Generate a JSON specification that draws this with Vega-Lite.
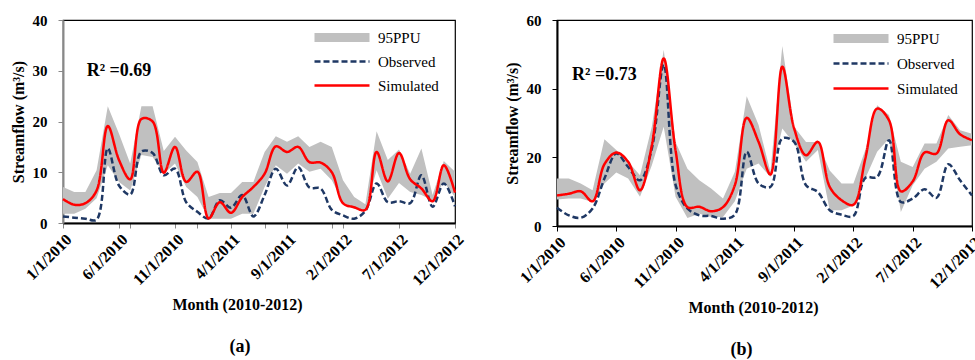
{
  "$schema": "https://vega.github.io/schema/vega-lite/v6.json",
  "background": "white",
  "padding": {"left": 9, "top": 12, "right": 0, "bottom": 0},
  "spacing": 36,
  "resolve": {
    "scale": {"stroke": "independent", "strokeDash": "independent"},
    "legend": {"stroke": "independent", "strokeDash": "independent"}
  },
  "config": {
    "font": "Liberation Serif",
    "view": {"stroke": "black", "strokeWidth": 1.2},
    "axis": {"grid": false, "labelFont": "Liberation Serif", "labelFontSize": 15, "labelFontWeight": "bold", "labelColor": "black", "titleFont": "Liberation Serif", "titleFontSize": 16, "titleFontWeight": "bold", "titleColor": "black", "tickColor": "#888888", "tickSize": 5, "domainWidth": 2},
    "axisY": {"labelPadding": 11, "titlePadding": 6},
    "axisX": {"labelFontSize": 16, "labelAngle": -45, "labelOverlap": false, "labelBound": false, "labelPadding": 3, "titlePadding": 8, "domainColor": "black"},
    "legend": {"labelFont": "Liberation Serif", "labelFontSize": 15, "labelColor": "black", "title": null}
  },
  "datasets": {
    "a": [
      {"month": "1/1/2010", "upper": 7.1, "lower": 1.8, "observed": 1.3, "simulated": 4.7},
      {"month": "2/1/2010", "upper": 6.1, "lower": 1.8, "observed": 1.05, "simulated": 3.6},
      {"month": "3/1/2010", "upper": 6.1, "lower": 2.8, "observed": 0.85, "simulated": 3.9},
      {"month": "4/1/2010", "upper": 10.4, "lower": 4.9, "observed": 0.65, "simulated": 6.4},
      {"month": "5/1/2010", "upper": 23.0, "lower": 11.4, "observed": 14.7, "simulated": 19.1},
      {"month": "6/1/2010", "upper": 17.6, "lower": 8.1, "observed": 7.4, "simulated": 12.4},
      {"month": "7/1/2010", "upper": 11.7, "lower": 6.4, "observed": 5.6, "simulated": 8.6},
      {"month": "8/1/2010", "upper": 23.0, "lower": 13.4, "observed": 14.1, "simulated": 20.5},
      {"month": "9/1/2010", "upper": 23.0, "lower": 13.0, "observed": 13.8, "simulated": 20.0},
      {"month": "10/1/2010", "upper": 14.2, "lower": 9.7, "observed": 9.4, "simulated": 9.9},
      {"month": "11/1/2010", "upper": 17.0, "lower": 11.7, "observed": 10.7, "simulated": 15.0},
      {"month": "12/1/2010", "upper": 14.3, "lower": 7.1, "observed": 4.1, "simulated": 8.1},
      {"month": "1/1/2011", "upper": 12.0, "lower": 5.1, "observed": 2.2, "simulated": 10.1},
      {"month": "2/1/2011", "upper": 5.1, "lower": 0.85, "observed": 0.9, "simulated": 0.9},
      {"month": "3/1/2011", "upper": 5.9, "lower": 0.85, "observed": 4.5, "simulated": 4.1},
      {"month": "4/1/2011", "upper": 5.9, "lower": 0.85, "observed": 3.0, "simulated": 2.0},
      {"month": "5/1/2011", "upper": 8.1, "lower": 1.8, "observed": 5.5, "simulated": 5.1},
      {"month": "6/1/2011", "upper": 8.1, "lower": 1.8, "observed": 1.3, "simulated": 7.1},
      {"month": "7/1/2011", "upper": 14.0, "lower": 7.1, "observed": 5.5, "simulated": 9.7},
      {"month": "8/1/2011", "upper": 17.1, "lower": 11.4, "observed": 10.7, "simulated": 15.1},
      {"month": "9/1/2011", "upper": 16.0, "lower": 9.7, "observed": 7.4, "simulated": 14.0},
      {"month": "10/1/2011", "upper": 17.1, "lower": 11.7, "observed": 11.0, "simulated": 15.0},
      {"month": "11/1/2011", "upper": 15.0, "lower": 10.1, "observed": 7.0, "simulated": 12.0},
      {"month": "12/1/2011", "upper": 16.0, "lower": 10.7, "observed": 6.8, "simulated": 11.9},
      {"month": "1/1/2012", "upper": 15.0, "lower": 8.4, "observed": 2.6, "simulated": 10.0},
      {"month": "2/1/2012", "upper": 8.4, "lower": 4.1, "observed": 1.5, "simulated": 3.9},
      {"month": "3/1/2012", "upper": 5.1, "lower": 2.8, "observed": 0.85, "simulated": 3.1},
      {"month": "4/1/2012", "upper": 3.7, "lower": 2.4, "observed": 2.4, "simulated": 2.6},
      {"month": "5/1/2012", "upper": 18.1, "lower": 10.4, "observed": 7.8, "simulated": 14.0},
      {"month": "6/1/2012", "upper": 12.4, "lower": 4.8, "observed": 4.1, "simulated": 8.2},
      {"month": "7/1/2012", "upper": 14.5, "lower": 7.9, "observed": 4.3, "simulated": 13.8},
      {"month": "8/1/2012", "upper": 9.7, "lower": 6.1, "observed": 3.9, "simulated": 8.6},
      {"month": "9/1/2012", "upper": 14.7, "lower": 5.5, "observed": 9.4, "simulated": 6.8},
      {"month": "10/1/2012", "upper": 5.5, "lower": 4.5, "observed": 3.2, "simulated": 4.3},
      {"month": "11/1/2012", "upper": 12.2, "lower": 8.1, "observed": 7.8, "simulated": 11.4},
      {"month": "12/1/2012", "upper": 10.1, "lower": 5.1, "observed": 3.3, "simulated": 6.0}
    ],
    "b": [
      {"month": "1/1/2010", "upper": 13.8, "lower": 7.7, "observed": 5.3, "simulated": 8.9},
      {"month": "2/1/2010", "upper": 13.8, "lower": 8.0, "observed": 3.1, "simulated": 9.4},
      {"month": "3/1/2010", "upper": 12.4, "lower": 8.0, "observed": 2.4, "simulated": 10.1},
      {"month": "4/1/2010", "upper": 10.4, "lower": 7.0, "observed": 5.1, "simulated": 7.2},
      {"month": "5/1/2010", "upper": 25.3, "lower": 12.4, "observed": 13.8, "simulated": 18.0},
      {"month": "6/1/2010", "upper": 22.1, "lower": 15.6, "observed": 21.1, "simulated": 21.4},
      {"month": "7/1/2010", "upper": 18.7, "lower": 13.8, "observed": 17.2, "simulated": 18.7},
      {"month": "8/1/2010", "upper": 14.8, "lower": 8.5, "observed": 13.3, "simulated": 10.4},
      {"month": "9/1/2010", "upper": 29.0, "lower": 17.7, "observed": 22.6, "simulated": 23.5},
      {"month": "10/1/2010", "upper": 51.3, "lower": 28.9, "observed": 47.0, "simulated": 48.8},
      {"month": "11/1/2010", "upper": 24.5, "lower": 8.5, "observed": 12.0, "simulated": 22.0},
      {"month": "12/1/2010", "upper": 16.7, "lower": 2.3, "observed": 5.1, "simulated": 5.5},
      {"month": "1/1/2011", "upper": 13.3, "lower": 3.6, "observed": 3.1, "simulated": 5.6},
      {"month": "2/1/2011", "upper": 10.9, "lower": 2.6, "observed": 2.9, "simulated": 4.3},
      {"month": "3/1/2011", "upper": 8.0, "lower": 2.6, "observed": 2.1, "simulated": 5.5},
      {"month": "4/1/2011", "upper": 15.8, "lower": 7.2, "observed": 3.3, "simulated": 11.9},
      {"month": "5/1/2011", "upper": 37.8, "lower": 16.7, "observed": 21.6, "simulated": 31.5},
      {"month": "6/1/2011", "upper": 29.4, "lower": 18.2, "observed": 12.4, "simulated": 24.5},
      {"month": "7/1/2011", "upper": 15.8, "lower": 14.3, "observed": 11.4, "simulated": 15.0},
      {"month": "8/1/2011", "upper": 52.4, "lower": 28.4, "observed": 25.5, "simulated": 46.4},
      {"month": "9/1/2011", "upper": 28.9, "lower": 24.0, "observed": 24.5, "simulated": 28.4},
      {"month": "10/1/2011", "upper": 24.5, "lower": 18.7, "observed": 11.9, "simulated": 20.6},
      {"month": "11/1/2011", "upper": 24.5, "lower": 22.1, "observed": 9.9, "simulated": 24.5},
      {"month": "12/1/2011", "upper": 16.2, "lower": 4.6, "observed": 4.6, "simulated": 11.4},
      {"month": "1/1/2012", "upper": 12.4, "lower": 4.6, "observed": 3.3, "simulated": 7.5},
      {"month": "2/1/2012", "upper": 12.4, "lower": 6.0, "observed": 2.9, "simulated": 6.2},
      {"month": "3/1/2012", "upper": 22.1, "lower": 13.8, "observed": 14.0, "simulated": 19.6},
      {"month": "4/1/2012", "upper": 35.2, "lower": 21.6, "observed": 14.3, "simulated": 34.2},
      {"month": "5/1/2012", "upper": 32.3, "lower": 25.5, "observed": 25.0, "simulated": 30.8},
      {"month": "6/1/2012", "upper": 18.7, "lower": 4.1, "observed": 7.0, "simulated": 10.1},
      {"month": "7/1/2012", "upper": 17.2, "lower": 11.9, "observed": 8.0, "simulated": 13.0},
      {"month": "8/1/2012", "upper": 24.0, "lower": 16.7, "observed": 10.7, "simulated": 21.4},
      {"month": "9/1/2012", "upper": 24.0, "lower": 18.7, "observed": 8.2, "simulated": 21.1},
      {"month": "10/1/2012", "upper": 32.3, "lower": 22.6, "observed": 18.0, "simulated": 30.8},
      {"month": "11/1/2012", "upper": 27.9, "lower": 23.1, "observed": 13.3, "simulated": 26.7},
      {"month": "12/1/2012", "upper": 26.9, "lower": 23.5, "observed": 8.9, "simulated": 25.0}
    ]
  },
  "hconcat": [
    {
      "width": 392,
      "height": 203,
      "data": {"name": "a"},
      "title": {"text": "(a)", "orient": "bottom", "anchor": "middle", "frame": "group", "offset": 26, "dx": -19, "fontSize": 18, "fontWeight": "bold", "font": "Liberation Serif", "color": "black"},
      "encoding": {
        "x": {
          "field": "month", "type": "ordinal", "sort": null,
          "scale": {"type": "point", "padding": 0},
          "axis": {
            "title": "Month (2010-2012)", "titleX": 174,
            "values": ["1/1/2010", "6/1/2010", "7/1/2010", "11/1/2010", "1/1/2011", "4/1/2011", "7/1/2011", "9/1/2011", "1/1/2012", "2/1/2012", "7/1/2012", "12/1/2012"],
            "labelExpr": "indexof(['1/1/2010','6/1/2010','11/1/2010','4/1/2011','9/1/2011','2/1/2012','7/1/2012','12/1/2012'], datum.value) >= 0 ? datum.value : ''",
            "encode": {"ticks": {"update": {"opacity": {"signal": "indexof(['1/1/2010','7/1/2010','1/1/2011','7/1/2011','1/1/2012','7/1/2012'], datum.value) >= 0 ? 1 : 0"}}}}
          }
        }
      },
      "layer": [
        {
          "mark": {"type": "area", "color": "#c0c0c0", "opacity": 1},
          "encoding": {
            "y": {"field": "upper", "type": "quantitative", "scale": {"domain": [0, 40], "nice": false}, "axis": {"title": "Streamflow (m³/s)", "values": [0, 10, 20, 30, 40], "domainColor": "#888888"}},
            "y2": {"field": "lower"}
          }
        },
        {
          "mark": {"type": "line", "interpolate": "catmull-rom", "strokeWidth": 2.5},
          "encoding": {
            "y": {"field": "observed", "type": "quantitative"},
            "stroke": {"datum": "Observed", "scale": {"domain": ["95PPU", "Observed", "Simulated"], "range": ["#c0c0c0", "#1f3864", "#ff0000"]}, "legend": {"orient": "none", "legendX": 249, "legendY": 10, "direction": "vertical", "padding": 0, "symbolType": "M-1,0H10", "symbolSize": 100, "symbolStrokeWidth": 2.5, "labelOffset": 51, "rowPadding": 8, "encode": {"symbols": {"update": {"shape": {"signal": "datum.value === '95PPU' ? 'M-1,-0.9H10V0.9H-1Z' : 'M-1,0H10'"}, "fill": {"signal": "datum.value === '95PPU' ? '#c0c0c0' : 'transparent'"}, "strokeWidth": {"signal": "datum.value === '95PPU' ? 0 : 2.5"}}}}}},
            "strokeDash": {"datum": "Observed", "scale": {"domain": ["95PPU", "Observed", "Simulated"], "range": [[1, 0], [6, 3], [1, 0]]}, "legend": {"orient": "none", "legendX": 249, "legendY": 10, "direction": "vertical", "padding": 0, "symbolType": "M-1,0H10", "symbolSize": 100, "symbolStrokeWidth": 2.5, "labelOffset": 51, "rowPadding": 8, "encode": {"symbols": {"update": {"shape": {"signal": "datum.value === '95PPU' ? 'M-1,-0.9H10V0.9H-1Z' : 'M-1,0H10'"}, "fill": {"signal": "datum.value === '95PPU' ? '#c0c0c0' : 'transparent'"}, "strokeWidth": {"signal": "datum.value === '95PPU' ? 0 : 2.5"}}}}}}
          }
        },
        {
          "mark": {"type": "line", "interpolate": "catmull-rom", "strokeWidth": 2.5},
          "encoding": {
            "y": {"field": "simulated", "type": "quantitative"},
            "stroke": {"datum": "Simulated"},
            "strokeDash": {"datum": "Simulated"}
          }
        },
        {
          "data": {"values": [{"month": "6/1/2010", "value": 30, "label": "R² =0.69"}]},
          "mark": {"type": "text", "fontSize": 18, "fontWeight": "bold", "font": "Liberation Serif", "align": "center", "baseline": "middle", "color": "black"},
          "encoding": {
            "y": {"field": "value", "type": "quantitative"},
            "text": {"field": "label"}
          }
        }
      ]
    },
    {
      "width": 415,
      "height": 206,
      "data": {"name": "b"},
      "title": {"text": "(b)", "orient": "bottom", "anchor": "middle", "frame": "group", "offset": 26, "dx": -23, "fontSize": 18, "fontWeight": "bold", "font": "Liberation Serif", "color": "black"},
      "encoding": {
        "x": {
          "field": "month", "type": "ordinal", "sort": null,
          "scale": {"type": "point", "padding": 0},
          "axis": {
            "title": "Month (2010-2012)", "titleX": 196, "tickColor": "black",
            "values": ["1/1/2010", "6/1/2010", "11/1/2010", "4/1/2011", "9/1/2011", "2/1/2012", "7/1/2012", "12/1/2012"]
          }
        }
      },
      "layer": [
        {
          "mark": {"type": "area", "color": "#c0c0c0", "opacity": 1},
          "encoding": {
            "y": {"field": "upper", "type": "quantitative", "scale": {"domain": [0, 60], "nice": false}, "axis": {"title": "Streamflow (m³/s)", "values": [0, 10, 20, 30, 40, 50, 60], "domainColor": "black", "tickColor": "black"}},
            "y2": {"field": "lower"}
          }
        },
        {
          "mark": {"type": "line", "interpolate": "catmull-rom", "strokeWidth": 2.5},
          "encoding": {
            "y": {"field": "observed", "type": "quantitative"},
            "stroke": {"datum": "Observed", "scale": {"domain": ["95PPU", "Observed", "Simulated"], "range": ["#c0c0c0", "#1f3864", "#ff0000"]}, "legend": {"orient": "none", "legendX": 274, "legendY": 11, "direction": "vertical", "padding": 0, "symbolType": "M-1,0H10", "symbolSize": 100, "symbolStrokeWidth": 2.5, "labelOffset": 51, "rowPadding": 9, "encode": {"symbols": {"update": {"shape": {"signal": "datum.value === '95PPU' ? 'M-1,-0.9H10V0.9H-1Z' : 'M-1,0H10'"}, "fill": {"signal": "datum.value === '95PPU' ? '#c0c0c0' : 'transparent'"}, "strokeWidth": {"signal": "datum.value === '95PPU' ? 0 : 2.5"}}}}}},
            "strokeDash": {"datum": "Observed", "scale": {"domain": ["95PPU", "Observed", "Simulated"], "range": [[1, 0], [6, 3], [1, 0]]}, "legend": {"orient": "none", "legendX": 274, "legendY": 11, "direction": "vertical", "padding": 0, "symbolType": "M-1,0H10", "symbolSize": 100, "symbolStrokeWidth": 2.5, "labelOffset": 51, "rowPadding": 9, "encode": {"symbols": {"update": {"shape": {"signal": "datum.value === '95PPU' ? 'M-1,-0.9H10V0.9H-1Z' : 'M-1,0H10'"}, "fill": {"signal": "datum.value === '95PPU' ? '#c0c0c0' : 'transparent'"}, "strokeWidth": {"signal": "datum.value === '95PPU' ? 0 : 2.5"}}}}}}
          }
        },
        {
          "mark": {"type": "line", "interpolate": "catmull-rom", "strokeWidth": 2.5},
          "encoding": {
            "y": {"field": "simulated", "type": "quantitative"},
            "stroke": {"datum": "Simulated"},
            "strokeDash": {"datum": "Simulated"}
          }
        },
        {
          "data": {"values": [{"month": "5/1/2010", "value": 44, "label": "R² =0.73"}]},
          "mark": {"type": "text", "fontSize": 18, "fontWeight": "bold", "font": "Liberation Serif", "align": "center", "baseline": "middle", "color": "black"},
          "encoding": {
            "y": {"field": "value", "type": "quantitative"},
            "text": {"field": "label"}
          }
        }
      ]
    }
  ]
}
